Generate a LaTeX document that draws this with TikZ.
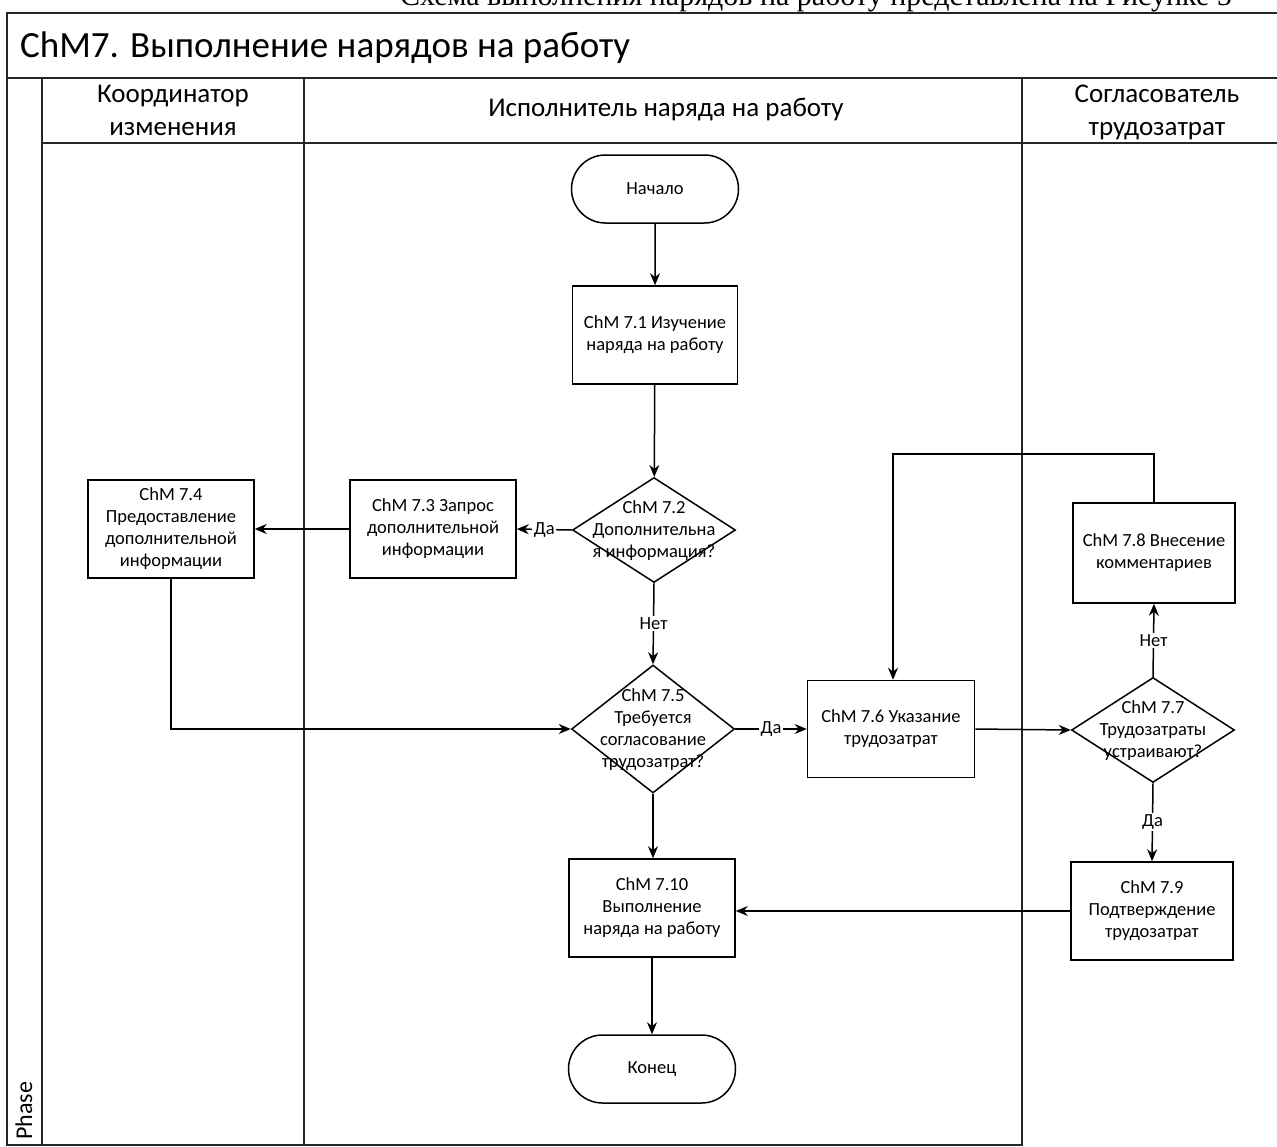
\documentclass[tikz,border=0pt]{standalone}
\usepackage{fontspec}
\setmainfont{Carlito}
\newfontfamily\serifru{Liberation Serif}
\usetikzlibrary{shapes.geometric,shapes.misc,arrows.meta}
\begin{document}
\begin{tikzpicture}[x=1pt,y=-1pt,
  frameline/.style={line width=1.4pt,draw=black!85},
  box/.style={draw,line width=1.5pt,minimum width=165pt,minimum height=98pt,inner sep=0pt,align=center,font=\fontsize{18.5}{22}\selectfont},
  term/.style={draw,rounded rectangle,line width=1.5pt,minimum width=167pt,minimum height=68pt,inner sep=0pt,font=\fontsize{18.5}{22}\selectfont},
  dia/.style={draw,diamond,line width=1.5pt,minimum width=163pt,minimum height=105pt,inner sep=0pt},
  dtext/.style={align=center,inner sep=0pt,font=\fontsize{18.5}{22}\selectfont},
  arr/.style={-{Stealth[length=12pt,width=10pt]},line width=1.5pt},
  lbl/.style={fill=white,inner sep=1.5pt,font=\fontsize{18.5}{20}\selectfont},
  head/.style={align=center,inner sep=0pt,font=\fontsize{27}{33}\selectfont}
]
\useasboundingbox (0,0) rectangle (1277,1146);
\fill[white] (0,0) rectangle (1277,1146);

% line of text above the frame, cut by the page edge as in the reference
\begin{scope}
\clip (0,0) rectangle (1277,1146);
\node[anchor=base east,inner sep=0pt,font=\serifru\fontsize{30}{30}\selectfont] (toptext) at (1232,5) {Схема выполнения нарядов на работу представлена на Рисунке 5};
\end{scope}

% frame and lanes
\draw[frameline] (1280,13) -- (7,13) -- (7,1145) -- (1022,1145);
\draw[frameline] (7,78) -- (1280,78);
\draw[frameline] (42,78) -- (42,1145);
\draw[frameline] (42,143) -- (1280,143);
\draw[frameline] (304,78) -- (304,1146);
\draw[frameline] (1022,78) -- (1022,1146);

\node[anchor=base west,inner sep=0pt,font=\fontsize{37}{40}\selectfont] (title) at (20,57) {ChM7. Выполнение нарядов на работу};
\node[head] (h1) at (173,110) {Координатор\\изменения};
\node[head] (h2) at (666,110) {Исполнитель наряда на работу};
\node[head] (h3) at (1157,112) {Согласователь\\трудозатрат};
\node[rotate=90,anchor=base west,inner sep=0pt,font=\fontsize{24}{28}\selectfont] (phase) at (32,1140) {Phase};

% nodes
\node[term] (start) at (655,189) {Начало};
\node[box,minimum height=98pt] (b71) at (655,335) {ChM 7.1 Изучение\\наряда на работу};
\node[dia] (d72) at (654,530) {};
\node[dtext] (t72) at (654,531) {ChM 7.2\\Дополнительна\\я информация?};
\node[box,minimum width=166pt] (b73) at (433,529) {ChM 7.3 Запрос\\дополнительной\\информации};
\node[box,minimum width=166pt] (b74) at (171,529) {ChM 7.4\\Предоставление\\дополнительной\\информации};
\node[dia,minimum height=128pt] (d75) at (653,729) {};
\node[dtext] (t75) at (653,730) {ChM 7.5\\Требуется\\согласование\\трудозатрат?};
\node[box,minimum width=167pt,minimum height=97pt] (b76) at (891,729) {ChM 7.6 Указание\\трудозатрат};
\node[dia] (d77) at (1153,730) {};
\node[dtext] (t77) at (1153,731) {ChM 7.7\\Трудозатраты\\устраивают?};
\node[box,minimum width=162pt,minimum height=100pt] (b78) at (1154,553) {ChM 7.8 Внесение\\комментариев};
\node[box,minimum width=162pt] (b79) at (1152,911) {ChM 7.9\\Подтверждение\\трудозатрат};
\node[box,minimum width=166pt] (b710) at (652,908) {ChM 7.10\\Выполнение\\наряда на работу};
\node[term] (finish) at (652,1069) {Конец};

% connectors
\draw[arr] (start) -- (b71);
\draw[arr] (b71) -- (d72);
\draw[arr] (d72.west) -- node[lbl] (l1) {Да} (b73.east);
\draw[arr] (b73) -- (b74);
\draw[arr] (d72.south) -- node[lbl] (l2) {Нет} (d75.north);
\draw[arr] (b74.south) |- (d75.west);
\draw[arr] (d75.east) -- node[lbl] (l3) {Да} (b76.west);
\draw[arr] (b76.east) -- (d77.west);
\draw[arr] (d77.north) -- node[lbl] (l4) {Нет} (b78.south);
\draw[arr] (d77.south) -- node[lbl] (l5) {Да} (b79.north);
\coordinate (loopR) at (1154,454);
\coordinate (loopL) at (893,454);
\draw[arr] (b78.north) -- (loopR) -- (loopL) -- (b76.north -| loopL);
\draw[arr] (b79.west) -- (b710.east |- b79.west);
\draw[arr] (d75.south) -- (b710.north -| d75.south);
\draw[arr] (b710) -- (finish);
\end{tikzpicture}
\end{document}
